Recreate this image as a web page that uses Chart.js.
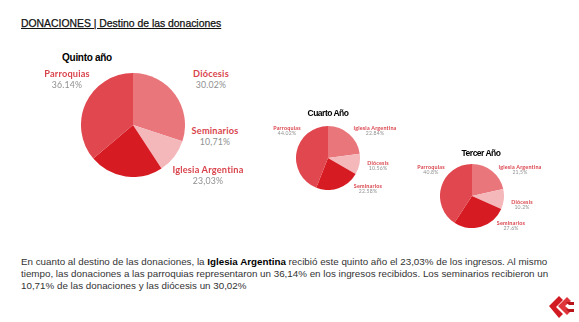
<!DOCTYPE html>
<html>
<head>
<meta charset="utf-8">
<script src="https://cdn.jsdelivr.net/npm/chart.js@4.4.0/dist/chart.umd.min.js"></script>
<style>
  html, body { margin: 0; padding: 0; background: #fff; }
  #page { position: relative; width: 579px; height: 322px; overflow: hidden; background: #fff; font-family: "Liberation Sans", Arial, sans-serif; }
  .title { position: absolute; left: 21px; top: 18px; font-size: 10.4px; color: #111; text-decoration: underline; -webkit-text-stroke: 0.25px #111; white-space: nowrap; }
  .pie { position: absolute; }
  .pie-title { position: absolute; font-weight: bold; color: #000; white-space: nowrap; transform: translateX(-50%); }
  .lbl { position: absolute; text-align: center; white-space: nowrap; transform: translateX(-50%); font-family: Lato, "Noto Sans", sans-serif; line-height: 1.15; }
  .lbl b { display: block; color: #d9444c; font-weight: bold; letter-spacing: 0.2px; }
  .lbl span { display: block; color: #909090; letter-spacing: 0.2px; }
  .body { position: absolute; left: 21px; top: 256px; width: 545px; font-size: 9.8px; line-height: 12px; color: #333; }
  .body b { color: #000; }
</style>
</head>
<body>
<div id="page">
  <div class="title">DONACIONES | Destino de las donaciones</div>

  <div class="body">En cuanto al destino de las donaciones, la <b>Iglesia Argentina</b> recibió este quinto año el 23,03% de los ingresos. Al mismo<br>tiempo, las donaciones a las parroquias representaron un 36,14% en los ingresos recibidos. Los seminarios recibieron un<br>10,71% de las donaciones y las diócesis un 30,02%</div>

  <svg style="position:absolute; left:547px; top:292px" width="28" height="26" viewBox="0 0 28 26">
    <path d="M2 14 L12 4 L16 8 L9 15 L16 22 L12 26 Z" fill="#d11a22"/>
    <path d="M11 14 L20 5 L24 9 L18 14 L24 19 L20 23 Z" fill="#e0343b"/>
    <path d="M19 10 L27 10 L27 13 L22 13 Z M19 17 L27 17 L27 20 L22 20 Z" fill="#b8141b"/>
  </svg>
</div>

<script>
// Quinto año
const quintoLabels = ['Diócesis', 'Seminarios', 'Iglesia Argentina', 'Parroquias'];
const quintoValues = [30.02, 10.71, 23.03, 36.14];
const quintoText = ['30.02%', '10,71%', '23,03%', '36.14%'];

// Cuarto Año
const cuartoLabels = ['Iglesia Argentina', 'Diócesis', 'Seminarios', 'Parroquias'];
const cuartoValues = [22.84, 10.56, 22.58, 44.02];
const cuartoText = ['22.84%', '10.56%', '22.58%', '44.02%'];

// Tercer Año
const tercerLabels = ['Iglesia Argentina', 'Diócesis', 'Seminarios', 'Parroquias'];
const tercerValues = [21.5, 10.2, 27.6, 40.8];
const tercerText = ['21,5%', '10.2%', '27.6%', '40.8%'];

const sliceColors = ['#e9767b', '#f4b7ba', '#d61b23', '#e1474f'];

const page = document.getElementById('page');

function addPie(opt) {
  const box = document.createElement('div');
  box.className = 'pie';
  box.style.left = (opt.cx - opt.r) + 'px';
  box.style.top = (opt.cy - opt.r) + 'px';
  box.style.width = (opt.r * 2) + 'px';
  box.style.height = (opt.r * 2) + 'px';
  const cv = document.createElement('canvas');
  cv.width = opt.r * 2;
  cv.height = opt.r * 2;
  box.appendChild(cv);
  page.appendChild(box);

  new Chart(cv, {
    type: 'pie',
    data: {
      labels: opt.labels,
      datasets: [{ data: opt.values, backgroundColor: sliceColors, borderWidth: 0 }],
    },
    options: {
      responsive: false,
      animation: false,
      rotation: opt.rotation || 0,
      layout: { padding: 0 },
      plugins: { legend: { display: false }, tooltip: { enabled: false } },
    },
  });

  const t = document.createElement('div');
  t.className = 'pie-title';
  t.textContent = opt.title;
  t.style.left = opt.titlePos[0] + 'px';
  t.style.top = opt.titlePos[1] + 'px';
  t.style.fontSize = opt.titleSize + 'px';
  t.style.letterSpacing = opt.titleSpacing + 'px';
  page.appendChild(t);

  // labels around the pie
  opt.labels.forEach((name, i) => {
    const l = document.createElement('div');
    l.className = 'lbl';
    l.style.left = opt.labelPos[i][0] + 'px';
    l.style.top = opt.labelPos[i][1] + 'px';
    l.style.fontSize = opt.labelSize + 'px';
    l.innerHTML = `<b>${name}</b><span style="font-size:${opt.labelSize * 0.95}px">${opt.text[i]}</span>`;
    page.appendChild(l);
  });
}

addPie({
  cx: 133, cy: 125, r: 52,
  labels: quintoLabels, values: quintoValues, text: quintoText,
  title: 'Quinto año', titlePos: [87, 52], titleSize: 10, titleSpacing: -0.3,
  labelSize: 9.2,
  labelPos: [[211, 69], [215, 126], [208, 165], [67, 69]],
});

addPie({
  cx: 328, cy: 158, r: 32,
  labels: cuartoLabels, values: cuartoValues, text: cuartoText,
  title: 'Cuarto Año', titlePos: [328, 108], titleSize: 8.5, titleSpacing: -0.5,
  labelSize: 5.4,
  labelPos: [[375, 125], [378, 159.5], [368, 182.5], [287, 125]],
});

addPie({
  cx: 472, cy: 196, r: 32,
  labels: tercerLabels, values: tercerValues, text: tercerText,
  title: 'Tercer Año', titlePos: [481, 148], titleSize: 8.5, titleSpacing: -0.5,
  labelSize: 5.4,
  labelPos: [[520, 163.5], [522, 198.5], [511, 220], [431, 163.5]],
});
</script>
</body>
</html>
